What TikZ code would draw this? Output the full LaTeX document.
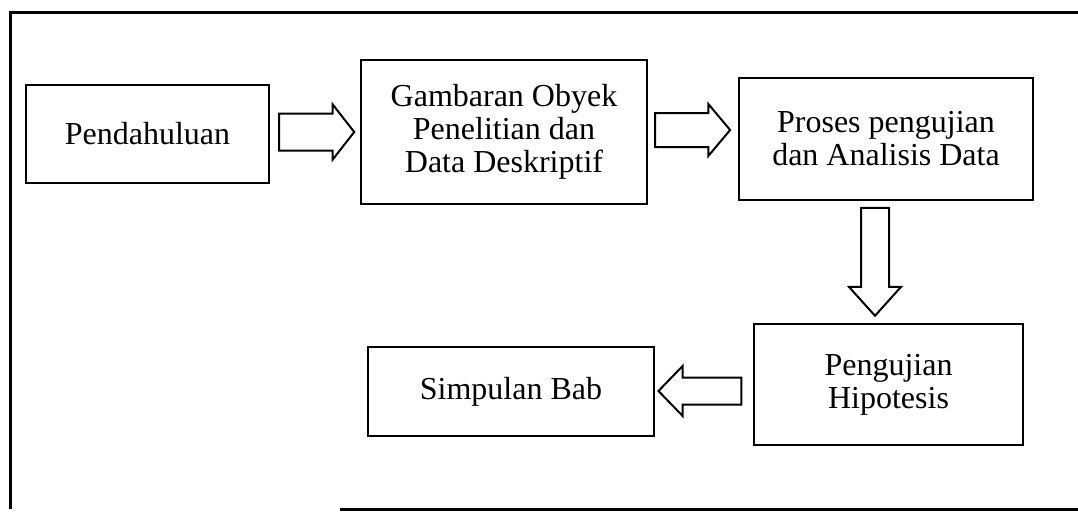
\documentclass[tikz,border=0pt]{standalone}
\usepackage{fontspec}
\setmainfont{Liberation Serif}
\usepackage{tikz}
\usetikzlibrary{shapes.arrows}

\begin{document}
\begin{tikzpicture}[
                x=0.5pt, y=-0.5pt,
                box/.style={rectangle, draw, line width=1pt, align=center, inner sep=0pt,
                            font=\fontsize{16}{16.5}\selectfont},
                blockarrow/.style={single arrow, draw, line width=1pt, fill=white}
            ]
                \useasboundingbox (0,0) rectangle (1078,514);

                % bingkai luar
                \draw[line width=1.5pt] (1078,12) -- (10,12) -- (10,509);
                \draw[line width=1.5pt] (340,509) -- (1078,509);

                % kotak tahapan
                \node[box, minimum width=121.5pt, minimum height=49pt] (pendahuluan) at (147.5,134) {Pendahuluan};
                \node[box, minimum width=143pt, minimum height=72pt] (gambaran) at (504,132) {Gambaran Obyek\\Penelitian dan\\Data Deskriptif};
                \node[box, minimum width=147pt, minimum height=61pt] (proses) at (886,139) {Proses pengujian\\dan Analisis Data};
                \node[box, minimum width=134.5pt, minimum height=60.5pt] (hipotesis) at (888.5,384.5) {Pengujian\\Hipotesis};
                \node[box, minimum width=143pt, minimum height=44.5pt] (simpulan) at (511,391.5) {Simpulan Bab};

                % panah blok antar tahapan
                \node[blockarrow, inner sep=8.75pt, minimum height=37.5pt,
                      single arrow head extend=4.5pt, single arrow tip angle=104] (a1) at (309.5,132) {};
                \node[blockarrow, inner sep=8pt, minimum height=37.5pt,
                      single arrow head extend=4.5pt, single arrow tip angle=100] (a2) at (685.5,130) {};
                \node[blockarrow, shape border rotate=270, inner sep=6.5pt, minimum height=54pt,
                      single arrow head extend=6pt, single arrow tip angle=84] (a3) at (875,254) {};
                \node[blockarrow, shape border rotate=180, inner sep=6.25pt, minimum height=41.5pt,
                      single arrow head extend=5.75pt, single arrow tip angle=92] (a4) at (706.5,391) {};

            \end{tikzpicture}
\end{document}
